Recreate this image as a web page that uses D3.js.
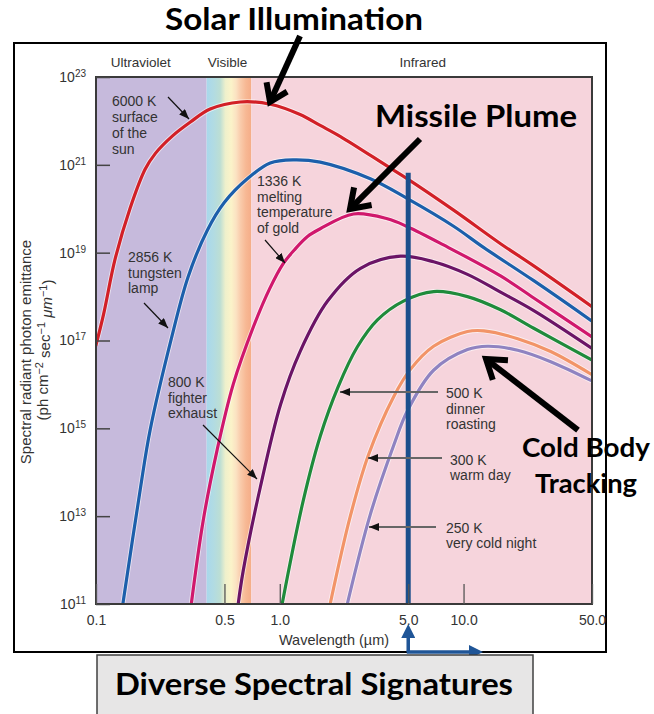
<!DOCTYPE html>
<html>
<head>
<meta charset="utf-8">
<script src="https://cdn.jsdelivr.net/npm/d3@7"></script>
<style>
body { margin: 0; background: #fff; }
svg { display: block; }
</style>
</head>
<body>
<svg id="chart" width="654" height="714"></svg>
<script>
// wavelength (um) , spectral radiant photon emittance (ph cm-2 sec-1 um-1)
var k6000 = [[0.1, 7.9e16], [0.11, 4.0e17], [0.127, 7.1e18], [0.153, 1.0e20], [0.185, 7.9e20], [0.21, 1.8e21],
  [0.26, 4.5e21], [0.325, 9.3e21], [0.418, 1.86e22], [0.61, 2.7e22], [0.887, 2.4e22], [1.29, 1.4e22],
  [1.66, 7.9e21], [2.14, 4.4e21], [3.85, 9.3e20], [4.95, 4.8e20], [8.83, 9.3e19], [15.9, 1.6e19],
  [24.1, 5.0e18], [50, 5.9e17]]
var k2856 = [[0.14, 1.0e11], [0.174, 4.0e13], [0.197, 9.1e14], [0.257, 1.1e17], [0.317, 2.8e18], [0.403, 3.2e19],
  [0.5, 1.4e20], [0.666, 4.8e20], [0.887, 1.1e21], [1.19, 1.3e21], [1.66, 1.15e21], [3.11, 4.8e20],
  [4.95, 1.7e20], [8.83, 4.0e19], [12.9, 1.3e19], [24.1, 2.3e18], [50, 2.75e17]]
var k1336 = [[0.33, 1.0e11], [0.383, 7.9e12], [0.456, 3.2e14], [0.558, 1.0e16], [0.717, 2.0e17], [0.88, 1.5e18],
  [1.04, 5.5e18], [1.2, 1.15e19], [1.41, 2.3e19], [1.66, 3.5e19], [2.52, 7.6e19], [3.85, 5.9e19],
  [4.95, 3.9e19], [7.78, 1.5e19], [15.9, 2.95e18], [24.1, 9.3e17], [50, 1.2e17]]
var k800 = [[0.594, 1.0e11], [0.632, 5.6e11], [0.783, 4.5e13], [1.01, 3.5e15], [1.29, 5.6e16], [1.82, 7.9e17],
  [2.75, 4.4e18], [4.54, 8.3e18], [6.87, 6.2e18], [10.5, 3.2e18], [15.9, 1.26e18], [24.1, 4.8e17], [50, 6.6e16]]
var k500 = [[1.03, 1.0e11], [1.34, 2.2e13], [1.66, 6.6e14], [2.08, 8.9e15], [2.64, 7.1e16], [3.4, 2.95e17],
  [4.71, 7.9e17], [6.87, 1.3e18], [10.5, 1.0e18], [15.9, 5.0e17], [24.1, 1.9e17], [50, 3.6e16]]
var k300 = [[1.88, 1.0e11], [2.42, 1.0e13], [3.04, 2.5e14], [4.16, 5.2e15], [5.14, 2.2e16], [6.87, 7.4e16],
  [10.5, 1.6e17], [12.9, 1.66e17], [19.7, 1.1e17], [29.8, 5.6e16], [50, 1.66e16]]
var k250 = [[2.33, 1.0e11], [3.11, 1.1e13], [4.16, 4.0e14], [4.95, 2.5e15], [6.87, 2.1e16], [10.5, 6.2e16],
  [13.5, 7.4e16], [19.7, 6.0e16], [29.8, 3.3e16], [50, 1.2e16]]

var xTicks = [0.1, 0.5, 1.0, 5.0, 10.0, 50.0]
var yTicks = [1e11, 1e13, 1e15, 1e17, 1e19, 1e21, 1e23]
var regionEdges = [0.1, 0.4, 0.7, 50]
var regionNames = ['Ultraviolet', 'Visible', 'Infrared']
var regionLabelAt = [0.175, 0.52, 6.0]
var markerWavelength = 5.0
var markerTop = 6.6e20

var noteText = [
  ['6000 K', 'surface', 'of the', 'sun'],
  ['2856 K', 'tungsten', 'lamp'],
  ['1336 K', 'melting', 'temperature', 'of gold'],
  ['800 K', 'fighter', 'exhaust'],
  ['500 K', 'dinner', 'roasting'],
  ['300 K', 'warm day'],
  ['250 K', 'very cold night']
]

var svg = d3.select('#chart')
var font = 'Liberation Sans, Arial, Helvetica, sans-serif'
var callFont = 'Lato, Carlito, Calibri, sans-serif'

var x = d3.scaleLog().domain([0.1, 50]).range([96, 592])
var y = d3.scaleLog().domain([1e11, 1e23]).range([604, 77])

var defs = svg.append('defs')
defs.append('clipPath').attr('id', 'plotclip').append('rect')
  .attr('x', x(0.1)).attr('y', y(1e23)).attr('width', x(50) - x(0.1)).attr('height', y(1e11) - y(1e23))

var grad = defs.append('linearGradient').attr('id', 'visible')
  .attr('gradientUnits', 'userSpaceOnUse')
  .attr('x1', x(regionEdges[1])).attr('x2', x(regionEdges[2])).attr('y1', 0).attr('y2', 0)
var stops = [[0, '#a9d8ec'], [0.15, '#b1dbe3'], [0.3, '#bcded4'], [0.42, '#eef0cc'], [0.55, '#fbf3c9'],
  [0.66, '#fbe2c2'], [0.76, '#f9cbab'], [0.88, '#f7b894'], [1, '#f5ad88']]
stops.forEach(function (s) {
  grad.append('stop').attr('offset', s[0]).attr('stop-color', s[1])
})

// small arrow heads
defs.append('marker').attr('id', 'head').attr('markerUnits', 'userSpaceOnUse')
  .attr('markerWidth', 10).attr('markerHeight', 8).attr('refX', 10).attr('refY', 4).attr('orient', 'auto')
  .append('path').attr('d', 'M0,0 L10,4 L0,8 Z').attr('fill', '#111')
defs.append('marker').attr('id', 'bluehead').attr('markerUnits', 'userSpaceOnUse')
  .attr('markerWidth', 14).attr('markerHeight', 14).attr('refX', 2).attr('refY', 7).attr('orient', 'auto')
  .append('path').attr('d', 'M0,0 L14,7 L0,14 Z').attr('fill', '#1f5597')

// outer frame
svg.append('rect').attr('x', 14).attr('y', 43).attr('width', 592).attr('height', 609)
  .attr('fill', '#fff').attr('stroke', '#000').attr('stroke-width', 2)

// spectral regions
var regionFill = ['#c6badc', 'url(#visible)', '#f6d4dc']
for (var i = 0; i < 3; i++) {
  svg.append('rect')
    .attr('x', x(regionEdges[i])).attr('y', y(1e23))
    .attr('width', x(regionEdges[i + 1]) - x(regionEdges[i]))
    .attr('height', y(1e11) - y(1e23))
    .attr('fill', regionFill[i])
  svg.append('text').attr('x', x(regionLabelAt[i])).attr('y', 67)
    .attr('text-anchor', 'middle').attr('font-family', font).attr('font-size', '13.5px').attr('fill', '#333')
    .text(regionNames[i])
}

// curves
var curves = [
  { data: k6000, color: '#d22027' },
  { data: k2856, color: '#1c5fab' },
  { data: k1336, color: '#d0186c' },
  { data: k800, color: '#6b1466' },
  { data: k500, color: '#1f8b3b' },
  { data: k300, color: '#f29468' },
  { data: k250, color: '#8f83c1' }
]
var line = d3.line().x(function (d) { return x(d[0]) }).y(function (d) { return y(d[1]) })
  .curve(d3.curveCatmullRom.alpha(0.5))
var gc = svg.append('g').attr('clip-path', 'url(#plotclip)')
curves.forEach(function (c) {
  gc.append('path').datum(c.data).attr('d', line).attr('fill', 'none')
    .attr('stroke', '#fff').attr('stroke-opacity', 0.6).attr('stroke-width', 5)
})
curves.forEach(function (c) {
  gc.append('path').datum(c.data).attr('d', line).attr('fill', 'none')
    .attr('stroke', c.color).attr('stroke-width', 3.2).attr('stroke-linecap', 'round')
})

// 5 um marker line
svg.append('line').attr('x1', x(markerWavelength)).attr('x2', x(markerWavelength))
  .attr('y1', y(markerTop)).attr('y2', y(1e11))
  .attr('stroke', '#1b4f8c').attr('stroke-width', 5)

// plot border
svg.append('rect').attr('x', x(0.1)).attr('y', y(1e23)).attr('width', x(50) - x(0.1)).attr('height', y(1e11) - y(1e23))
  .attr('fill', 'none').attr('stroke', '#3a3a3a').attr('stroke-width', 2)

// axes
var xAxis = d3.axisBottom(x).tickValues(xTicks).tickSizeInner(-20).tickSizeOuter(0).tickPadding(11)
  .tickFormat(d3.format('.1f'))
var gx = svg.append('g').attr('transform', 'translate(0,' + y(1e11) + ')').call(xAxis)
gx.select('.domain').remove()
gx.selectAll('.tick line').attr('stroke', '#555').attr('stroke-width', 1.3)
gx.selectAll('.tick text').attr('font-family', font).attr('font-size', '14px').attr('fill', '#333')

var yAxis = d3.axisLeft(y).tickValues(yTicks).tickSizeInner(-14).tickSizeOuter(0).tickPadding(10)
  .tickFormat(function () { return '' })
var gy = svg.append('g').attr('transform', 'translate(' + x(0.1) + ',0)').call(yAxis)
gy.select('.domain').remove()
gy.selectAll('.tick line').attr('stroke', '#444').attr('stroke-width', 1.5)
gy.selectAll('.tick text').attr('font-family', font).attr('font-size', '14px').attr('fill', '#333')
  .each(function (d) {
    var t = d3.select(this)
    t.append('tspan').text('10')
    t.append('tspan').attr('dy', '-0.5em').attr('font-size', '10px').text(Math.round(Math.log10(d)))
  })

svg.append('text').attr('x', 334).attr('y', 645).attr('text-anchor', 'middle')
  .attr('font-family', font).attr('font-size', '14.5px').attr('fill', '#333').text('Wavelength (\u00b5m)')

var yl1 = svg.append('text').attr('transform', 'translate(31,352) rotate(-90)').attr('text-anchor', 'middle')
  .attr('font-family', font).attr('font-size', '15px').attr('fill', '#333').text('Spectral radiant photon emittance')
var yl2 = svg.append('text').attr('transform', 'translate(48,350) rotate(-90)').attr('text-anchor', 'middle')
  .attr('font-family', font).attr('font-size', '15px').attr('fill', '#333')
yl2.append('tspan').text('(ph cm')
yl2.append('tspan').attr('dy', '-0.45em').attr('font-size', '11px').text('\u22122')
yl2.append('tspan').attr('dy', '0.45em').text(' sec')
yl2.append('tspan').attr('dy', '-0.45em').attr('font-size', '11px').text('\u22121')
yl2.append('tspan').attr('dy', '0.45em').text(' ')
yl2.append('tspan').attr('font-style', 'italic').text('\u03bcm')
yl2.append('tspan').attr('dy', '-0.45em').attr('font-size', '11px').text('\u22121')
yl2.append('tspan').attr('dy', '0.45em').text(')')

// curve notes: text position, arrow tail, arrow tip
var noteLayout = [
  { x: 112, y: 106, lh: 16, from: [168, 97], to: [189, 119], grey: false },
  { x: 128, y: 262, lh: 15.5, from: [144, 303], to: [168, 328], grey: false },
  { x: 257, y: 186, lh: 15.5, from: [265, 240], to: [285, 263], grey: false },
  { x: 168, y: 387, lh: 15.5, from: [203, 425], to: [257, 479], grey: false },
  { x: 446, y: 398, lh: 15.5, from: [438, 392], to: [340, 392], grey: true },
  { x: 450, y: 465, lh: 14.5, from: [442, 458], to: [368, 458], grey: true },
  { x: 446, y: 533, lh: 15, from: [436, 527], to: [369, 527], grey: true }
]
noteText.forEach(function (lines, i) {
  var L = noteLayout[i]
  var t = svg.append('text').attr('font-family', font).attr('font-size', '14px').attr('fill', '#333')
  lines.forEach(function (s, j) {
    t.append('tspan').attr('x', L.x).attr('y', L.y + j * L.lh).text(s)
  })
  svg.append('line').attr('x1', L.from[0]).attr('y1', L.from[1]).attr('x2', L.to[0]).attr('y2', L.to[1])
    .attr('stroke', L.grey ? '#666' : '#111').attr('stroke-width', L.grey ? 2 : 1.2)
    .attr('marker-end', 'url(#head)')
})

// big call-out arrows
function bigArrow(x1, y1, x2, y2, arm) {
  var a = Math.atan2(y2 - y1, x2 - x1)
  var g = svg.append('g').attr('stroke', '#000').attr('fill', 'none').attr('stroke-width', 6)
  g.append('line').attr('x1', x1).attr('y1', y1).attr('x2', x2 - 3 * Math.cos(a)).attr('y2', y2 - 3 * Math.sin(a))
  var p1 = [x2 - arm * Math.cos(a - 0.6), y2 - arm * Math.sin(a - 0.6)]
  var p2 = [x2 - arm * Math.cos(a + 0.6), y2 - arm * Math.sin(a + 0.6)]
  g.append('path').attr('d', 'M' + p1 + 'L' + x2 + ',' + y2 + 'L' + p2).attr('stroke-linejoin', 'miter')
}
bigArrow(300, 36, 270, 102, 20)
bigArrow(420, 139, 350, 209, 22)
bigArrow(578, 430, 486, 359, 22)

function callout(s, x0, y0, len, size) {
  svg.append('text').attr('x', x0).attr('y', y0).attr('font-family', callFont).attr('font-weight', 'bold')
    .attr('font-size', size).attr('fill', '#000').attr('textLength', len).attr('lengthAdjust', 'spacingAndGlyphs')
    .text(s)
}
callout('Solar Illumination', 165, 30, 258, '31px')
callout('Missile Plume', 375, 127, 202, '31px')
callout('Cold Body', 522, 457, 128, '27px')
callout('Tracking', 535, 493, 102, '27px')

// 5 um marker arrows under the axis
var mx = x(markerWavelength)
svg.append('line').attr('x1', mx).attr('y1', 652).attr('x2', mx).attr('y2', 636)
  .attr('stroke', '#1f5597').attr('stroke-width', 3.5).attr('marker-end', 'url(#bluehead)')
svg.append('line').attr('x1', mx - 1.5).attr('y1', 652).attr('x2', 471).attr('y2', 652)
  .attr('stroke', '#1f5597').attr('stroke-width', 3.5).attr('marker-end', 'url(#bluehead)')

// bottom caption box
svg.append('rect').attr('x', 97).attr('y', 655).attr('width', 436).attr('height', 62)
  .attr('fill', '#e7e6e6').attr('stroke', '#404040').attr('stroke-width', 1.5)
callout('Diverse Spectral Signatures', 115, 695, 398, '31px')
</script>
</body>
</html>
